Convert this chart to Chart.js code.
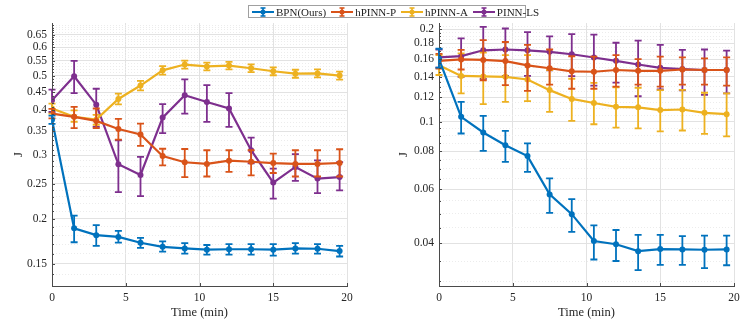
<!DOCTYPE html>
<html>
<head>
<meta charset="utf-8">
<script src="https://cdn.jsdelivr.net/npm/chart.js@4"></script>
<style>
  body { margin: 0; background: #fff; }
  #wrap { position: relative; width: 748px; height: 324px; overflow: hidden; }
  #left { position: absolute; left: 0; top: 0; }
  #right { position: absolute; left: 380px; top: 0; }
  #legend {
    position: absolute; left: 248px; top: 5px; height: 11px; width: 276px;
    border: 1px solid #a0a0a0; background: #fff;
    font: 11px "Liberation Serif", serif; color: #222;
    display: flex; align-items: center; white-space: nowrap;
  }
  #legend span.item { display: inline-flex; align-items: center; margin-left: 3px; margin-right: 2px; }
  #legend svg { margin-right: 2px; }
</style>
</head>
<body>
<div id="wrap">
  <canvas id="left" width="380" height="324"></canvas>
  <canvas id="right" width="368" height="324"></canvas>
  <div id="legend"></div>
</div>
<script>
// time axis (min)
const times = [0, 1.5, 3, 4.5, 6, 7.5, 9, 10.5, 12, 13.5, 15, 16.5, 18, 19.5];

const seriesNames = ['BPN(Ours)', 'hPINN-P', 'hPINN-A', 'PINN-LS'];
const seriesColors = ['#0072BD', '#D95319', '#EDB120', '#7E2F8E'];

// left panel
const leftBpn   = [0.377, 0.188, 0.180, 0.178, 0.1715, 0.167, 0.1654, 0.164, 0.1645, 0.1645, 0.164, 0.1654, 0.165, 0.1626];
const leftBpnLo = [0.367, 0.172, 0.168, 0.1715, 0.166, 0.162, 0.160, 0.159, 0.159, 0.159, 0.158, 0.160, 0.160, 0.157];
const leftBpnHi = [0.387, 0.204, 0.192, 0.185, 0.177, 0.173, 0.171, 0.169, 0.170, 0.170, 0.170, 0.171, 0.170, 0.168];

const leftP   = [0.392, 0.384, 0.374, 0.355, 0.343, 0.2987, 0.287, 0.284, 0.290, 0.288, 0.2855, 0.284, 0.284, 0.2857];
const leftPLo = [0.380, 0.357, 0.357, 0.332, 0.3186, 0.2814, 0.261, 0.262, 0.270, 0.264, 0.268, 0.262, 0.262, 0.262];
const leftPHi = [0.404, 0.409, 0.405, 0.379, 0.3675, 0.313, 0.3125, 0.310, 0.310, 0.310, 0.3034, 0.310, 0.310, 0.312];

const leftA   = [0.405, 0.384, 0.377, 0.4305, 0.469, 0.517, 0.5365, 0.530, 0.533, 0.524, 0.514, 0.506, 0.507, 0.500];
const leftALo = [0.392, 0.372, 0.365, 0.416, 0.455, 0.503, 0.523, 0.517, 0.520, 0.511, 0.501, 0.493, 0.494, 0.487];
const leftAHi = [0.418, 0.400, 0.389, 0.4456, 0.4835, 0.531, 0.550, 0.543, 0.546, 0.537, 0.527, 0.519, 0.520, 0.513];

const leftLs   = [0.4268, 0.4977, 0.415, 0.2833, 0.2646, 0.382, 0.4406, 0.422, 0.405, 0.310, 0.252, 0.2786, 0.2585, 0.261];
const leftLsLo = [0.396, 0.447, 0.360, 0.2372, 0.231, 0.346, 0.392, 0.3715, 0.360, 0.285, 0.2275, 0.2547, 0.2357, 0.2398];
const leftLsHi = [0.457, 0.549, 0.4595, 0.3304, 0.297, 0.4165, 0.488, 0.4705, 0.447, 0.336, 0.2757, 0.3025, 0.2906, 0.2874];

// right panel
const rightBpn   = [0.160, 0.1036, 0.0921, 0.0837, 0.0771, 0.0578, 0.0498, 0.0407, 0.0397, 0.0377, 0.0383, 0.0382, 0.0381, 0.0382];
const rightBpnLo = [0.150, 0.0914, 0.0802, 0.0738, 0.0685, 0.0503, 0.0436, 0.0354, 0.0350, 0.0327, 0.0340, 0.0340, 0.0332, 0.0339];
const rightBpnHi = [0.173, 0.116, 0.1044, 0.0932, 0.0848, 0.0652, 0.0558, 0.0458, 0.0442, 0.0426, 0.0426, 0.0422, 0.0424, 0.0424];

const rightP   = [0.158, 0.1596, 0.159, 0.1577, 0.1526, 0.1494, 0.146, 0.1455, 0.1474, 0.1465, 0.1465, 0.148, 0.1474, 0.1474];
const rightPLo = [0.149, 0.148, 0.1365, 0.1315, 0.126, 0.132, 0.128, 0.128, 0.130, 0.132, 0.130, 0.132, 0.132, 0.131];
const rightPHi = [0.1665, 0.1715, 0.1845, 0.182, 0.178, 0.172, 0.1635, 0.163, 0.165, 0.160, 0.163, 0.162, 0.161, 0.162];

const rightA   = [0.1529, 0.141, 0.1405, 0.140, 0.1373, 0.1267, 0.1186, 0.115, 0.1117, 0.1113, 0.109, 0.1095, 0.1068, 0.1057];
const rightALo = [0.142, 0.1236, 0.114, 0.116, 0.1167, 0.1076, 0.1005, 0.098, 0.0955, 0.095, 0.0929, 0.0935, 0.0911, 0.0894];
const rightAHi = [0.165, 0.167, 0.168, 0.165, 0.165, 0.1474, 0.138, 0.1338, 0.1294, 0.129, 0.1267, 0.127, 0.1242, 0.1236];

const rightLs   = [0.162, 0.1636, 0.171, 0.172, 0.171, 0.169, 0.166, 0.162, 0.158, 0.1537, 0.1498, 0.1485, 0.1474, 0.1474];
const rightLsLo = [0.150, 0.140, 0.1378, 0.141, 0.141, 0.147, 0.1408, 0.131, 0.134, 0.121, 0.1273, 0.1265, 0.1223, 0.1236];
const rightLsHi = [0.172, 0.187, 0.204, 0.2015, 0.196, 0.190, 0.193, 0.1925, 0.181, 0.184, 0.178, 0.1715, 0.172, 0.1705];

// tick labels
const leftTicks = [0.15, 0.2, 0.25, 0.3, 0.35, 0.4, 0.45, 0.5, 0.55, 0.6, 0.65];
const rightTicks = [0.04, 0.06, 0.08, 0.1, 0.12, 0.14, 0.16, 0.18, 0.2];
const xTicks = [0, 5, 10, 15, 20];

const FONT = '"Liberation Serif", "Times New Roman", serif';
const AXIS = '#4a4a4a';

// minor grid values between min and max with a step
function minorTicks(min, max, step, majors) {
  const out = [];
  for (let k = Math.ceil(min / step + 1e-9); k * step < max - 1e-9; k++) {
    const v = Math.round(k * step * 10000) / 10000;
    if (!majors.some(m => Math.abs(m - v) < 1e-9)) out.push(v);
  }
  return out;
}

function isMajor(v, majors) {
  return majors.some(m => Math.abs(m - v) < 1e-9);
}

// vertical error bars drawn through the y scale
const errorBars = {
  id: 'errorBars',
  beforeDatasetDraw(chart, args) {
    const ds = chart.data.datasets[args.index];
    const y = chart.scales.y;
    const ctx = chart.ctx;
    ctx.save();
    ctx.strokeStyle = ds.borderColor;
    ctx.lineWidth = 1.8;
    args.meta.data.forEach((pt, i) => {
      const yl = y.getPixelForValue(ds.lo[i]);
      const yh = y.getPixelForValue(ds.hi[i]);
      ctx.beginPath();
      ctx.moveTo(pt.x, yl); ctx.lineTo(pt.x, yh);
      ctx.moveTo(pt.x - 3.5, yl); ctx.lineTo(pt.x + 3.5, yl);
      ctx.moveTo(pt.x - 3.5, yh); ctx.lineTo(pt.x + 3.5, yh);
      ctx.stroke();
    });
    ctx.restore();
  }
};

// inward tick marks like the original axes
const innerTicks = {
  id: 'innerTicks',
  afterDraw(chart) {
    const {ctx, chartArea, scales} = chart;
    ctx.save();
    ctx.strokeStyle = AXIS;
    ctx.lineWidth = 1;
    ctx.beginPath();
    scales.y.ticks.forEach(t => {
      const p = Math.round(scales.y.getPixelForValue(t.value)) + 0.5;
      const len = t.major ? 3 : 2;
      ctx.moveTo(chartArea.left, p); ctx.lineTo(chartArea.left + len, p);
    });
    scales.x.ticks.forEach(t => {
      const p = Math.round(scales.x.getPixelForValue(t.value)) + 0.5;
      ctx.moveTo(p, chartArea.bottom); ctx.lineTo(p, chartArea.bottom - 3);
    });
    ctx.stroke();
    ctx.restore();
  }
};

function makeSet(i, vals, lo, hi) {
  return {
    label: seriesNames[i],
    data: times.map((t, k) => ({x: t, y: vals[k]})),
    lo: lo,
    hi: hi,
    borderColor: seriesColors[i],
    backgroundColor: seriesColors[i],
    pointBackgroundColor: seriesColors[i],
    borderWidth: 2.2,
    pointRadius: 3,
    pointBorderWidth: 0,
    tension: 0
  };
}

function makePanel(id, sets, yMin, yMax, majors, minorStep, yWidth, padRight, titlePad) {
  const minors = minorTicks(yMin, yMax, minorStep, majors);
  new Chart(document.getElementById(id), {
    type: 'line',
    data: { datasets: sets },
    options: {
      responsive: false,
      animation: false,
      layout: { padding: { top: 23, right: padRight, bottom: 0, left: 0 } },
      plugins: { legend: { display: false }, tooltip: { enabled: false } },
      scales: {
        x: {
          type: 'linear', min: 0, max: 20,
          afterBuildTicks: s => { s.ticks = xTicks.map(v => ({value: v})); },
          afterFit: s => { s.height = 38; },
          grid: { drawTicks: false, color: '#e2e2e2', lineWidth: 1 },
          border: { display: true, color: AXIS, width: 1 },
          ticks: { padding: 5, color: '#262626', font: { family: FONT, size: 11.5 } },
          title: { display: true, text: 'Time (min)', color: '#262626',
                   font: { family: FONT, size: 12.5 }, padding: { top: 0, bottom: 4 } }
        },
        y: {
          type: 'logarithmic', min: yMin, max: yMax,
          afterBuildTicks: s => {
            s.ticks = majors.concat(minors).sort((a, b) => a - b)
              .map(v => ({value: v, major: isMajor(v, majors)}));
          },
          afterFit: s => { s.width = yWidth; },
          grid: {
            drawTicks: false,
            color: c => (c.tick && c.tick.major) ? '#e2e2e2' : '#ececec',
            lineWidth: 1
          },
          border: {
            display: true, color: AXIS, width: 1,
            dash: c => (c.tick && !c.tick.major) ? [1, 2] : []
          },
          ticks: {
            autoSkip: false, padding: 5, color: '#262626',
            font: { family: FONT, size: 11.5 },
            callback: v => isMajor(v, majors) ? String(v) : ''
          },
          title: { display: true, text: 'J', color: '#262626',
                   font: { family: FONT, size: 12.5 }, padding: { top: titlePad, bottom: 0 } }
        }
      }
    },
    plugins: [errorBars, innerTicks]
  });
}

makePanel('left', [
  makeSet(0, leftBpn, leftBpnLo, leftBpnHi),
  makeSet(1, leftP, leftPLo, leftPHi),
  makeSet(2, leftA, leftALo, leftAHi),
  makeSet(3, leftLs, leftLsLo, leftLsHi)
], 0.13, 0.70, leftTicks, 0.01, 52, 33, 11);

makePanel('right', [
  makeSet(0, rightBpn, rightBpnLo, rightBpnHi),
  makeSet(1, rightP, rightPLo, rightPHi),
  makeSet(2, rightA, rightALo, rightAHi),
  makeSet(3, rightLs, rightLsLo, rightLsHi)
], 0.029, 0.21, rightTicks, 0.005, 59, 14, 16);

// shared legend across both panels
const legend = document.getElementById('legend');
seriesNames.forEach((name, i) => {
  const c = seriesColors[i];
  const item = document.createElement('span');
  item.className = 'item';
  item.innerHTML =
    '<svg width="22" height="10"><g stroke="' + c + '" stroke-width="1.6">' +
    '<line x1="0" y1="5" x2="22" y2="5" stroke-width="2"/>' +
    '<line x1="11" y1="1" x2="11" y2="9"/>' +
    '<line x1="8.5" y1="1" x2="13.5" y2="1"/><line x1="8.5" y1="9" x2="13.5" y2="9"/></g>' +
    '<circle cx="11" cy="5" r="2.5" fill="' + c + '"/></svg>' + name;
  legend.appendChild(item);
});
</script>
</body>
</html>
